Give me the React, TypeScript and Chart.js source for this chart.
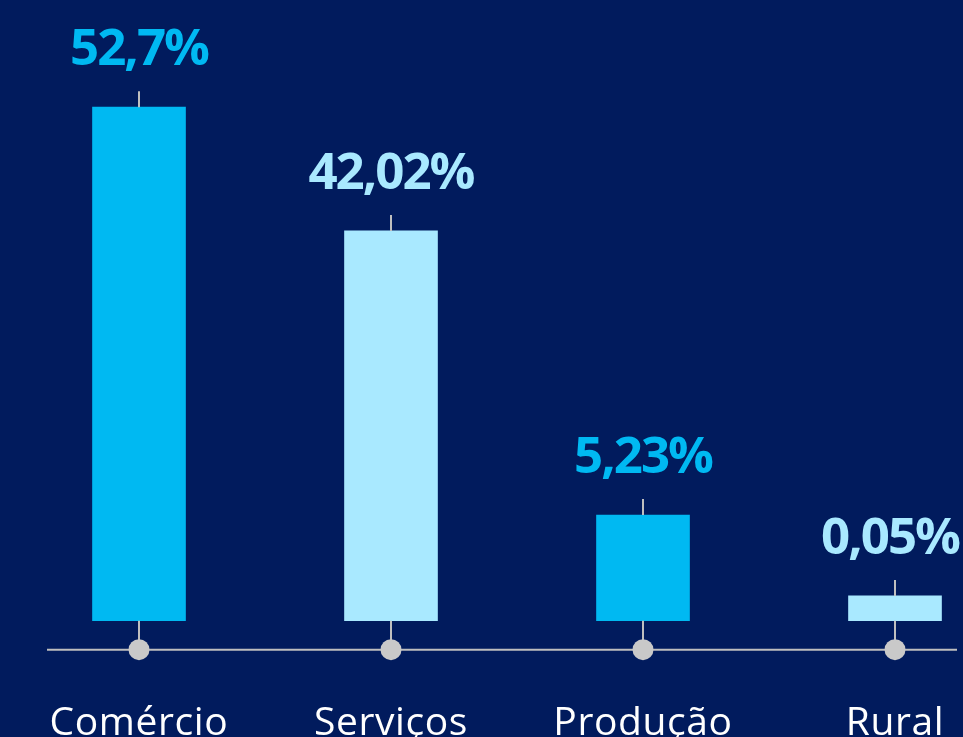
import React, { useEffect, useRef } from "react";
import { Chart, registerables } from "chart.js";

Chart.register(...registerables);

// Data
const categories = ["Comércio", "Serviços", "Produção", "Rural"];
const shares = [52.7, 42.02, 5.23, 0.05]; // printed percentages
// bar heights as drawn in the infographic (not proportional to the printed shares)
const barLevels = [52.7, 40.0, 10.85, 2.54];
const barColors = ["#00b9f2", "#a9e9ff", "#00b9f2", "#a9e9ff"];

const BG = "#011b5d";
const AXIS = "#bfbfbf";
const DOT = "#c9c9c9";

const fmt = (v: number) => v.toString().replace(".", ",") + "%";

const decoPlugin = {
  id: "deco",
  beforeDraw(chart: any) {
    const ctx = chart.ctx;
    ctx.save();
    ctx.fillStyle = BG;
    ctx.fillRect(0, 0, chart.width, chart.height);
    ctx.restore();
  },
  afterDatasetsDraw(chart: any) {
    const ctx = chart.ctx;
    const meta = chart.getDatasetMeta(0);
    const base = chart.scales.y.getPixelForValue(0);
    const axisY = base + 29;
    ctx.save();
    ctx.strokeStyle = AXIS;
    ctx.lineWidth = 2;
    ctx.beginPath();
    ctx.moveTo(47, axisY);
    ctx.lineTo(957, axisY);
    ctx.stroke();
    meta.data.forEach((bar: any, i: number) => {
      const x = Math.round(bar.x);
      const top = bar.y;
      ctx.strokeStyle = AXIS;
      ctx.lineWidth = 2;
      ctx.beginPath();
      ctx.moveTo(x, top - 16);
      ctx.lineTo(x, top);
      ctx.moveTo(x, base);
      ctx.lineTo(x, axisY);
      ctx.stroke();
      ctx.fillStyle = DOT;
      ctx.beginPath();
      ctx.arc(x, axisY, 10.5, 0, Math.PI * 2);
      ctx.fill();

      ctx.textAlign = "center";
      ctx.textBaseline = "alphabetic";
      (ctx as any).letterSpacing = "-2px";
      ctx.font = "700 51px 'Open Sans'";
      ctx.fillStyle = barColors[i];
      const txt = fmt(shares[i]);
      const tw = ctx.measureText(txt).width;
      const tx = Math.min(x, chart.width - 4 - tw / 2);
      ctx.fillText(txt, tx, top - 42);

      (ctx as any).letterSpacing = "0.6px";
      ctx.font = "400 39px 'Open Sans'";
      ctx.fillStyle = "#ffffff";
      ctx.fillText(categories[i], x, 735);
    });
    ctx.restore();
  },
};

export default function App() {
  const ref = useRef<HTMLCanvasElement | null>(null);
  useEffect(() => {
    if (!ref.current) return;
    const chart = new Chart(ref.current, {
      type: "bar",
      data: {
        labels: categories,
        datasets: [
          {
            data: barLevels,
            backgroundColor: barColors,
            borderWidth: 0,
            barThickness: 93,
            clip: false as any,
          },
        ],
      },
      options: {
        responsive: false,
        animation: false,
        devicePixelRatio: 1,
        layout: { padding: { left: 139, right: 68, top: 0, bottom: 116.3 } },
        plugins: { legend: { display: false }, tooltip: { enabled: false } },
        scales: {
          x: { display: false, offset: false, grid: { display: false } },
          y: { display: false, min: 0, max: 63.7 },
        },
      },
      plugins: [decoPlugin],
    });
    return () => chart.destroy();
  }, []);
  return (
    <div style={{ position: "fixed", left: 0, top: 0, width: 963, height: 737, background: BG }}>
      <canvas ref={ref} width={963} height={737} style={{ display: "block" }} />
    </div>
  );
}
